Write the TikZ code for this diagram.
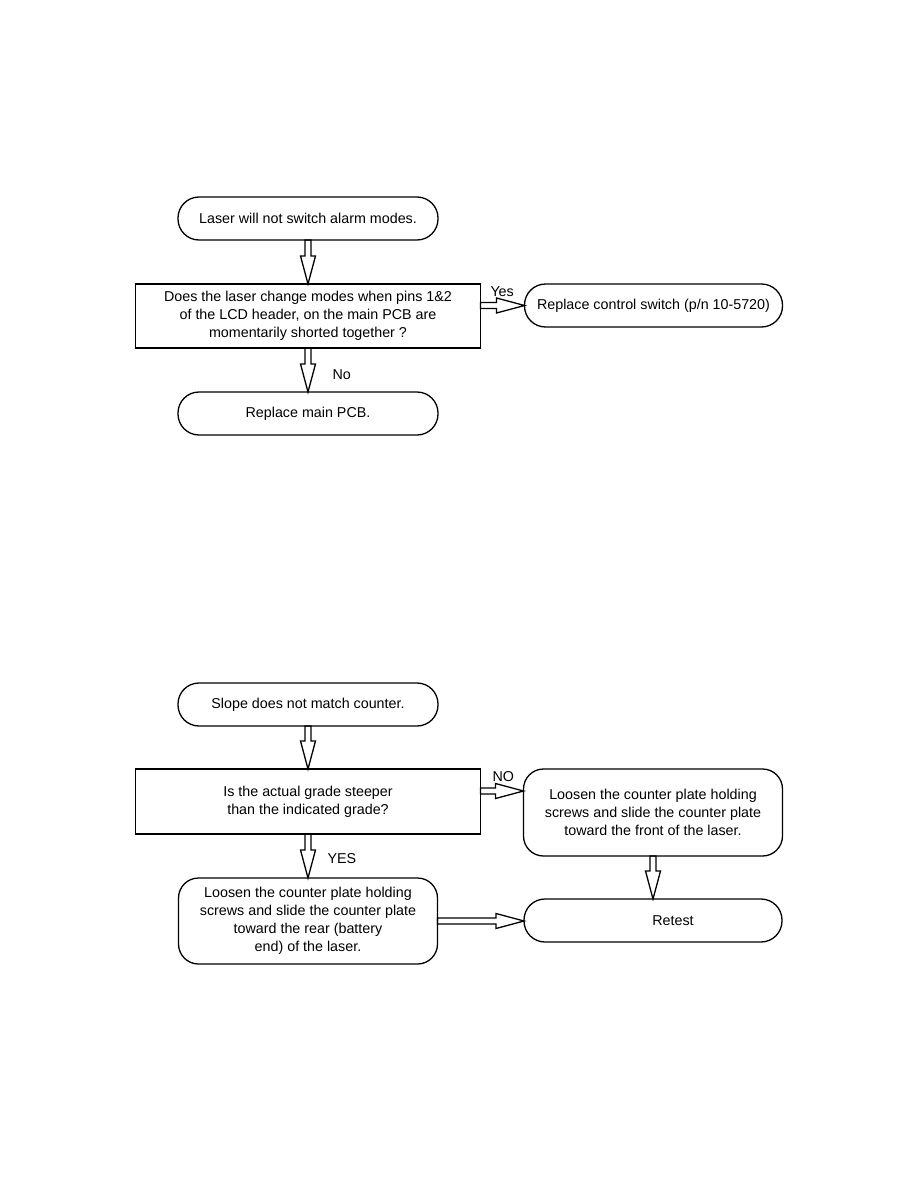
\documentclass[tikz,border=0pt]{standalone}
\usepackage{fontspec}
\setmainfont{Liberation Sans}
\usetikzlibrary{calc, positioning}

\begin{document}
\begin{tikzpicture}[
  x=1pt, y=-1pt,
  every node/.style={font=\fontsize{14.3}{18}\selectfont, outer sep=0pt},
  term/.style={draw, line width=1.3pt, rounded corners=21pt, align=center, minimum width=260pt, minimum height=43pt},
  qbox/.style={draw, line width=1.3pt, align=center, minimum width=345pt, minimum height=64pt},
  actbox/.style={draw, line width=1.3pt, rounded corners=20pt, align=center, minimum width=259pt, minimum height=86pt},
  lbl/.style={anchor=west, inner sep=0pt},
  hollow/.style={draw, line width=1.3pt, to path={
    let \p1=(\tikztostart), \p2=(\tikztotarget),
        \n1={atan2(\y2-\y1,\x2-\x1)}, \n2={veclen(\x2-\x1,\y2-\y1)} in
    ([shift={(\p1)}, rotate=\n1]0pt,-3pt) -- ([shift={(\p1)}, rotate=\n1]\n2-28pt,-3pt)
    -- ([shift={(\p1)}, rotate=\n1]\n2-28pt,-7.5pt) -- ([shift={(\p1)}, rotate=\n1]\n2,0pt)
    -- ([shift={(\p1)}, rotate=\n1]\n2-28pt,7.5pt) -- ([shift={(\p1)}, rotate=\n1]\n2-28pt,3pt)
    -- ([shift={(\p1)}, rotate=\n1]0pt,3pt) -- cycle}}
]
\useasboundingbox (0,0) rectangle (918,1188);

% alarm modes
\node[term] (alarm) at (308,218.5) {Laser will not switch alarm modes.};
\node[qbox, below=44pt of alarm] (pins) {Does the laser change modes when pins 1\&2\\of the LCD header, on the main PCB are\\momentarily shorted together ?};
\node[term, minimum width=258pt, right=44pt of pins.north east, anchor=north west] (switch) {Replace control switch (p/n 10-5720)};
\node[term, below=44pt of pins] (pcb) {Replace main PCB.};

\draw[hollow] (alarm.south) to (pins.north);
\draw[hollow] ([yshift=-21.5pt]pins.north east) to ([yshift=-21.5pt]switch.north west);
\draw[hollow] (pins.south) to (pcb.north);
\node[lbl] at ([xshift=10pt,yshift=-8pt]pins.north east) {Yes};
\node[lbl] at ([xshift=24.5pt,yshift=-27pt]pins.south) {No};

% slope
\node[term] (slope) at (308,704.5) {Slope does not match counter.};
\node[qbox, minimum height=65pt, below=43pt of slope] (grade) {Is the actual grade steeper\\than the indicated grade?};
\node[actbox, minimum height=87pt, right=43pt of grade.north east, anchor=north west] (front) {Loosen the counter plate holding\\screws and slide the counter plate\\toward the front of the laser.};
\node[actbox, below=44pt of grade] (rear) {Loosen the counter plate holding\\screws and slide the counter plate\\toward the rear (battery\\end) of the laser.};
\node[term, minimum width=258pt, below=43pt of front] (retest) {\hspace*{40pt}Retest};

\draw[hollow] (slope.south) to (grade.north);
\draw[hollow] ([yshift=-22pt]grade.north east) to ([yshift=-22pt]front.north west);
\draw[hollow] (grade.south) to (rear.north);
\draw[hollow] (front.south) to (retest.north);
\draw[hollow] (rear.east) to (rear.east -| retest.west);
\node[lbl] at ([xshift=12pt,yshift=-8pt]grade.north east) {NO};
\node[lbl] at ([xshift=19.5pt,yshift=-25pt]grade.south) {YES};
\end{tikzpicture}
\end{document}
